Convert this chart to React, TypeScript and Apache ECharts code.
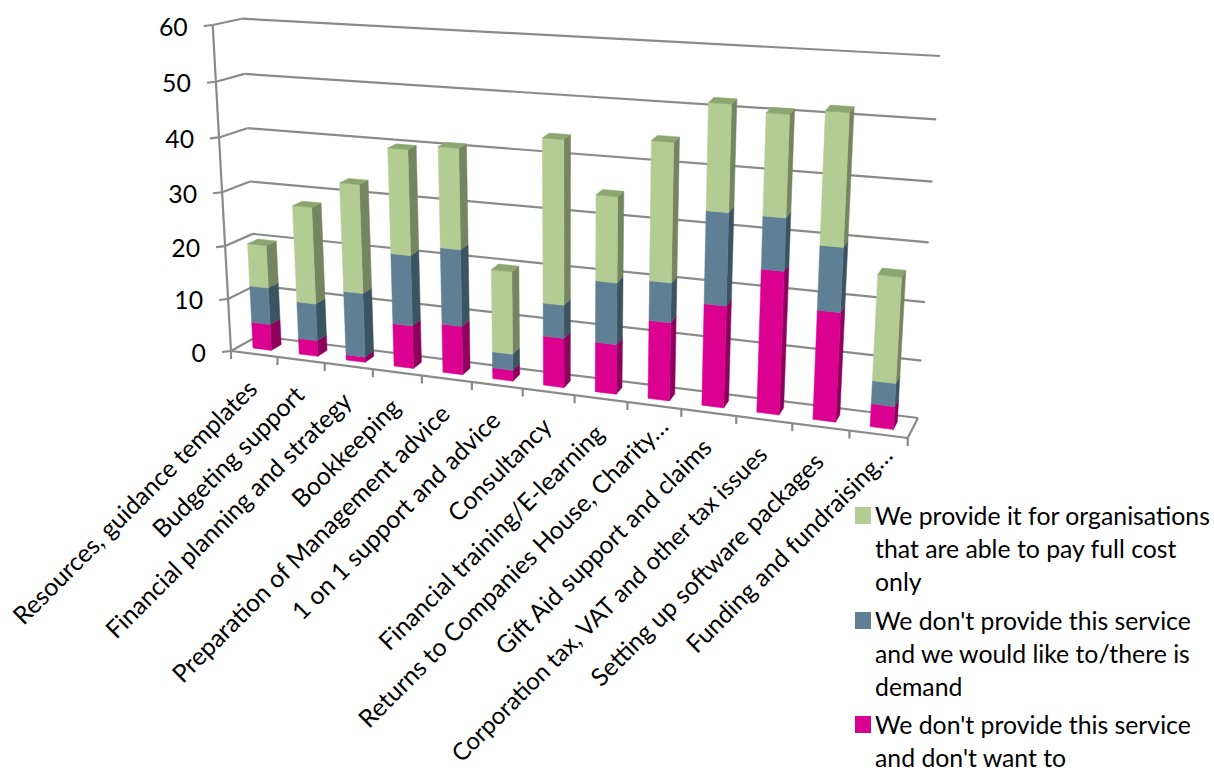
import React, { useEffect, useRef } from "react";
import * as echarts from "echarts";

const categories = [
  "Resources, guidance templates",
  "Budgeting support",
  "Financial planning and strategy",
  "Bookkeeping",
  "Preparation of Management advice",
  "1 on 1 support and advice",
  "Consultancy",
  "Financial training/E-learning",
  "Returns to Companies House, Charity…",
  "Gift Aid support and claims",
  "Corporation tax, VAT and other tax issues",
  "Setting up software packages",
  "Funding and fundraising…",
];
const valueTicks = [0, 10, 20, 30, 40, 50, 60];

const dontWant = [5, 3, 1, 8, 9, 2, 9, 9, 14, 18, 25, 19, 4];
const wouldLike = [7, 7, 12, 13, 14, 3, 6, 11, 7, 16, 9, 11, 4];
const fullCost = [8, 18, 20, 19, 18, 15, 29, 15, 24, 18, 17, 22, 18];

const nameFullCost = "We provide it for organisations\nthat are able to pay full cost\nonly";
const nameWouldLike = "We don't provide this service\nand we would like to/there is\ndemand";
const nameDontWant = "We don't provide this service\nand don't want to";

const WIDTH = 1214;
const HEIGHT = 772;
const FONT = "Lato, Carlito, sans-serif";
const FONT_SIZE = 24.8;
const LINE = "#8a8a8a";

type Pt = [number, number];

// Maps the unit square onto a quad (tl, tr, br, bl) with a projective transform.
function quadMap(tl: Pt, tr: Pt, br: Pt, bl: Pt) {
  const dx1 = tr[0] - br[0];
  const dx2 = bl[0] - br[0];
  const sx = tl[0] - tr[0] + br[0] - bl[0];
  const dy1 = tr[1] - br[1];
  const dy2 = bl[1] - br[1];
  const sy = tl[1] - tr[1] + br[1] - bl[1];
  const den = dx1 * dy2 - dx2 * dy1;
  const g = (sx * dy2 - dx2 * sy) / den;
  const h = (dx1 * sy - sx * dy1) / den;
  const a = tr[0] - tl[0] + g * tr[0];
  const b = bl[0] - tl[0] + h * bl[0];
  const c = tl[0];
  const d = tr[1] - tl[1] + g * tr[1];
  const e = bl[1] - tl[1] + h * bl[1];
  const f = tl[1];
  return (u: number, v: number): Pt => {
    const w = g * u + h * v + 1;
    return [(a * u + b * v + c) / w, (d * u + e * v + f) / w];
  };
}

// Front and back planes of the 3D box, in screen space.
const frontPlane = quadMap([212.7, 25], [928, 72], [907.7, 438], [231, 351]);
const backPlane = quadMap([241.7, 18.7], [940, 56], [918, 418], [258, 336]);

const BAR_WIDTH = 0.4;
const DEPTH_NEAR = 0.31;
const DEPTH_FAR = 0.69;

// Turns a flat grid pixel into a point of the box at a depth (0 front, 1 back).
function toBox(p: number[], depth: number): Pt {
  const u = p[0] / WIDTH;
  const v = p[1] / HEIGHT;
  const a = frontPlane(u, v);
  const b = backPlane(u, v);
  return [a[0] + (b[0] - a[0]) * depth, a[1] + (b[1] - a[1]) * depth];
}

function lineEl(p: Pt, q: Pt, width = 2.2) {
  return {
    type: "line",
    shape: { x1: p[0], y1: p[1], x2: q[0], y2: q[1] },
    style: { stroke: LINE, lineWidth: width },
  };
}

function poly(points: Pt[], fill: string) {
  return {
    type: "polygon",
    shape: { points },
    style: { fill, stroke: fill, lineWidth: 0.5 },
  };
}

function columnRender(front: string, side: string, top: string | null) {
  return (_params: any, api: any) => {
    const i = api.value(0);
    const from = api.value(1);
    const to = api.value(2);
    const x0 = i + 0.5 - BAR_WIDTH / 2;
    const x1 = i + 0.5 + BAR_WIDTH / 2;
    const at = (x: number, y: number, d: number) => toBox(api.coord([x, y]), d);
    const children: any[] = [
      poly([at(x1, from, DEPTH_NEAR), at(x1, from, DEPTH_FAR), at(x1, to, DEPTH_FAR), at(x1, to, DEPTH_NEAR)], side),
      poly([at(x0, from, DEPTH_NEAR), at(x1, from, DEPTH_NEAR), at(x1, to, DEPTH_NEAR), at(x0, to, DEPTH_NEAR)], front),
    ];
    if (top) {
      children.push(
        poly([at(x0, to, DEPTH_NEAR), at(x1, to, DEPTH_NEAR), at(x1, to, DEPTH_FAR), at(x0, to, DEPTH_FAR)], top),
      );
    }
    return { type: "group", children };
  };
}

// Gridlines, value ticks and value labels.
function valueAxisRender(_params: any, api: any) {
  const v = api.value(0);
  const xMax = categories.length;
  const fl = toBox(api.coord([0, v]), 0);
  const bl = toBox(api.coord([0, v]), 1);
  const br = toBox(api.coord([xMax, v]), 1);
  return {
    type: "group",
    children: [
      lineEl(fl, bl),
      lineEl(bl, br),
      lineEl([fl[0] - 9, fl[1] + 1], fl),
      {
        type: "text",
        x: fl[0] - 25,
        y: fl[1] + 1,
        style: {
          text: String(v),
          fill: "#000",
          fontFamily: FONT,
          fontSize: FONT_SIZE,
          align: "right",
          verticalAlign: "middle",
        },
      },
    ],
  };
}

// Floor ticks and the slanted category labels; shortened labels sit a little higher.
function categoryAxisRender(_params: any, api: any) {
  const i = api.value(0);
  const tick = toBox(api.coord([i, 0]), 0);
  const children: any[] = [lineEl(tick, [tick[0], tick[1] + 8])];
  if (i < categories.length) {
    const mid = toBox(api.coord([i + 0.5, 0]), 0);
    const shortened = categories[i].endsWith("…");
    const longest = categories[i].length > 40;
    children.push({
      type: "text",
      x: mid[0] + (shortened ? 9 : -2),
      y: mid[1] + (shortened ? 16 : 30),
      rotation: Math.PI / 4,
      style: {
        text: categories[i],
        fill: "#000",
        fontFamily: FONT,
        fontSize: longest ? 24 : FONT_SIZE,
        align: "right",
        verticalAlign: "middle",
      },
    });
  }
  return { type: "group", children };
}

// Outline of the floor and the vertical front edge of the left wall.
function frameRender(_params: any, api: any) {
  const xMax = categories.length;
  const yMax = valueTicks[valueTicks.length - 1];
  const fl = toBox(api.coord([0, 0]), 0);
  const fr = toBox(api.coord([xMax, 0]), 0);
  const br = toBox(api.coord([xMax, 0]), 1);
  const top = toBox(api.coord([0, yMax]), 0);
  return {
    type: "group",
    children: [lineEl(fl, fr), lineEl(fr, br), lineEl(fl, top)],
  };
}

const legendEntries: { name: string; color: string; top: number }[] = [
  { name: nameFullCost, color: "#b3cc93", top: 507 },
  { name: nameWouldLike, color: "#5f8094", top: 612 },
  { name: nameDontWant, color: "#db0090", top: 716 },
];

export default function App() {
  const ref = useRef<HTMLDivElement>(null);

  useEffect(() => {
    document.body.style.margin = "0";
    const chart = echarts.init(ref.current!, undefined, { renderer: "svg" });

    const stack = (lower: number[][], values: number[]) =>
      values.map((v, i) => {
        const base = lower.reduce((s, arr) => s + arr[i], 0);
        return [i, base, base + v];
      });

    const custom = (name: string, data: any[], renderItem: any, z = 2) => ({
      type: "custom",
      name,
      data,
      renderItem,
      clip: false,
      z,
      coordinateSystem: "cartesian2d",
      encode: { x: 0, y: 1 },
    });

    chart.setOption({
      animation: false,
      backgroundColor: "#fff",
      grid: { left: 0, top: 0, width: WIDTH, height: HEIGHT },
      xAxis: { type: "value", min: 0, max: categories.length, show: false },
      yAxis: { type: "value", min: 0, max: 60, show: false },
      series: [
        custom("values", valueTicks.map((v) => [v, v]), valueAxisRender, 1),
        custom("frame", [[0, 0]], frameRender, 1),
        custom("categories", [...categories.map((_, i) => i), categories.length].map((i) => [i, 0]), categoryAxisRender, 1),
        custom(nameDontWant, stack([], dontWant), columnRender("#db0090", "#8e005c", null), 2),
        custom(nameWouldLike, stack([dontWant], wouldLike), columnRender("#5f8094", "#3c5361", null), 3),
        custom(nameFullCost, stack([dontWant, wouldLike], fullCost), columnRender("#b3cc93", "#74855f", "#8ca670"), 4),
      ],
      graphic: legendEntries.flatMap((e) => [
        {
          type: "rect",
          shape: { x: 855, y: e.top, width: 16, height: 17 },
          style: { fill: e.color },
        },
        {
          type: "text",
          x: 875,
          y: e.top - 8,
          style: {
            text: e.name,
            fill: "#000",
            fontFamily: FONT,
            fontSize: FONT_SIZE,
            lineHeight: 33,
            align: "left",
            verticalAlign: "top",
          },
        },
      ]),
    });

    return () => chart.dispose();
  }, []);

  return <div ref={ref} style={{ width: WIDTH, height: HEIGHT }} />;
}
